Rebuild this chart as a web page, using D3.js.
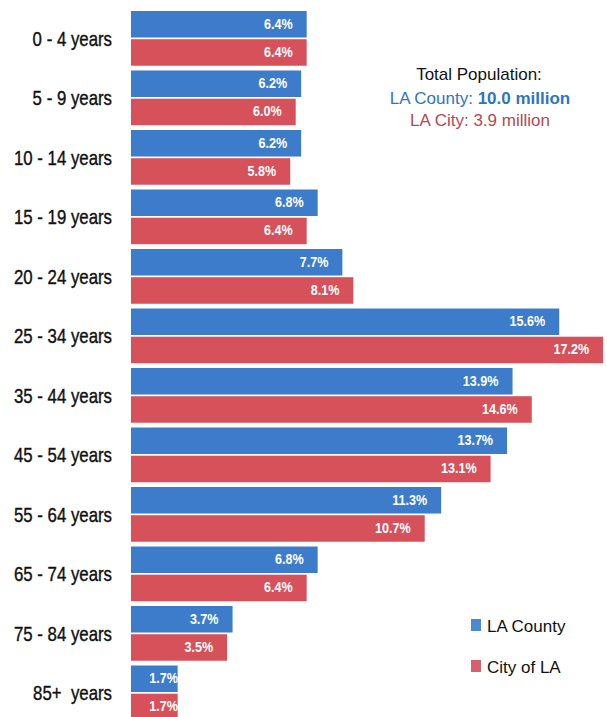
<!DOCTYPE html>
<html><head><meta charset="utf-8">
<script src="https://cdnjs.cloudflare.com/ajax/libs/d3/7.8.5/d3.min.js"></script>
<style>body{margin:0;background:#fff;font-family:"Liberation Sans",Arial,sans-serif;}</style>
</head><body><svg id="c" width="607" height="717"></svg>
<script>
const categories = ["0 - 4 years","5 - 9 years","10 - 14 years","15 - 19 years","20 - 24 years","25 - 34 years","35 - 44 years","45 - 54 years","55 - 64 years","65 - 74 years","75 - 84 years","85+  years"];
const seriesNames = ["LA County","City of LA"];
const county = [6.4,6.2,6.2,6.8,7.7,15.6,13.9,13.7,11.3,6.8,3.7,1.7];
const city = [6.4,6.0,5.8,6.4,8.1,17.2,14.6,13.1,10.7,6.4,3.5,1.7];
const colors = ["#3d7ccb","#d6515a"];
const legendColors = ["#4d88d2","#d9606a"];

const svg = d3.select("#c");
const x0 = 131;
const x = d3.scaleLinear().domain([0,1]).range([x0, x0+27.45]);
const pin = 0.08, step = 59.5;
const y = d3.scaleBand().domain(categories).range([11, 11+step*(categories.length-pin)]).paddingInner(pin).paddingOuter(0);
const ys = d3.scaleBand().domain(seriesNames).range([0, y.bandwidth()]).paddingInner(0.06);

const data = categories.map((c,i)=>({cat:c, vals:[county[i], city[i]]}));

const g = svg.selectAll("g.grp").data(data).join("g").attr("class","grp")
  .attr("transform", d=>`translate(0,${y(d.cat)})`);

g.selectAll("rect").data(d=>d.vals.map((v,j)=>({v,j}))).join("rect")
  .attr("x", x(0)).attr("y", d=>ys(seriesNames[d.j]))
  .attr("width", d=>x(d.v)-x(0)).attr("height", ys.bandwidth())
  .attr("fill", d=>colors[d.j]);

const vs = 0.9;
g.selectAll("text.val").data(d=>d.vals.map((v,j)=>({v,j}))).join("text").attr("class","val")
  .attr("transform",`scale(${vs},1)`)
  .attr("x", d=>Math.max(x(d.v)-14, x(0)+47)/vs).attr("y", d=>ys(seriesNames[d.j])+ys.bandwidth()/2+4.5)
  .attr("text-anchor","end").attr("fill","#fff").attr("font-weight","bold")
  .attr("font-size","14px").text(d=>d.v.toFixed(1)+"%");

const sx = 0.82;
svg.selectAll("text.cat").data(categories).join("text").attr("class","cat")
  .attr("transform",`scale(${sx},1)`)
  .attr("x",112/sx).attr("y",d=>y(d)+y.bandwidth()/2+7.5)
  .attr("text-anchor","end").attr("font-size","20.5px").attr("fill","#111")
  .attr("stroke","#111").attr("stroke-width",0.4)
  .style("white-space","pre").text(d=>d);

// annotation
const ann = svg.append("g").attr("font-size","17px").attr("text-anchor","middle");
ann.append("text").attr("x",479).attr("y",80).attr("fill","#111").text("Total Population:");
const t2 = ann.append("text").attr("x",480).attr("y",104).attr("fill","#2f74c4");
t2.append("tspan").text("LA County: ");
t2.append("tspan").attr("font-weight","bold").text("10.0 million");
ann.append("text").attr("x",480).attr("y",126).attr("fill","#b54852").text("LA City: 3.9 million");

// legend
const leg = svg.selectAll("g.leg").data(seriesNames).join("g").attr("class","leg")
  .attr("transform",(d,i)=>`translate(471,${619+i*41})`);
leg.append("rect").attr("width",10).attr("height",12).attr("fill",(d,i)=>legendColors[i]);
leg.append("text").attr("x",16).attr("y",13).attr("font-size","17px").attr("fill","#111").text(d=>d);
</script></body></html>
